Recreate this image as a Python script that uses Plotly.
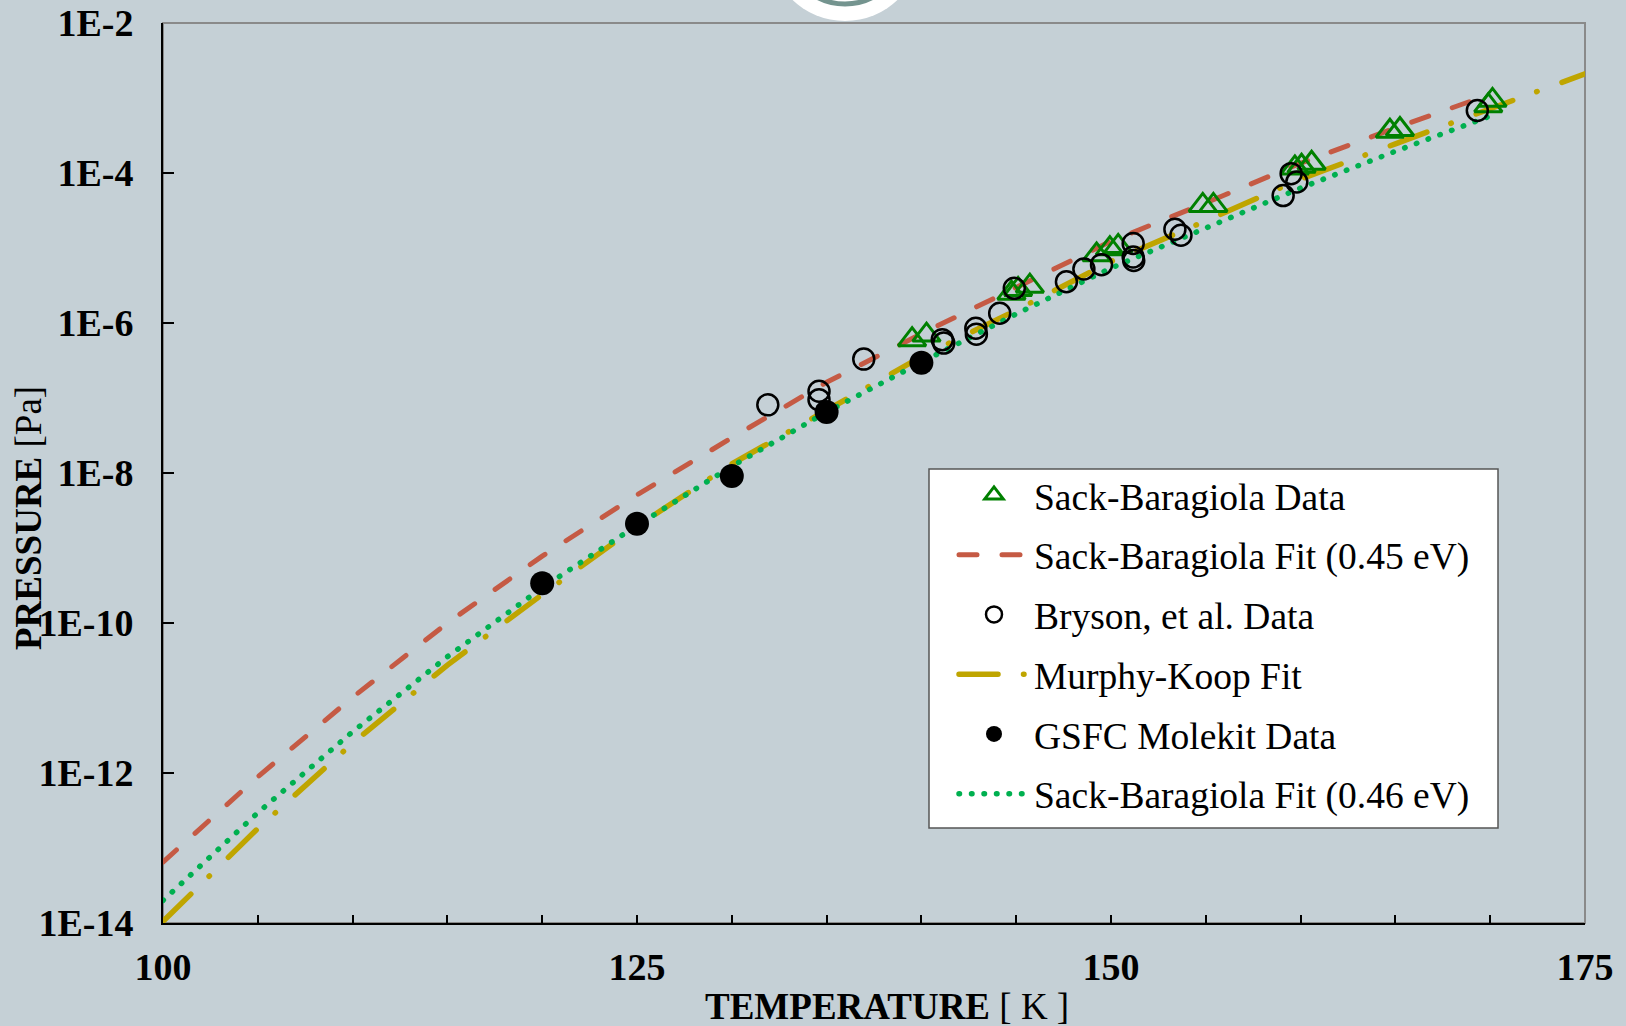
import plotly.graph_objects as go

# ---------------- data ----------------
fit_temps = [100, 105, 110, 115, 120, 125, 130, 135, 140, 145, 150, 155, 160, 165, 170]
sb_fit_045 = [6.5e-14, 8.9e-13, 1.02e-11, 1.0e-10, 7.8e-10, 5.1e-9, 2.95e-8, 1.62e-7,
              7.2e-7, 2.95e-6, 1.23e-5, 4.0e-5, 1.35e-4, 4.0e-4, 1.12e-3]
sb_fit_046 = [2.0e-14, 2.95e-13, 3.55e-12, 3.55e-11, 2.95e-10, 2.0e-9, 1.23e-8, 6.5e-8,
              3.0e-7, 1.32e-6, 5.4e-6, 1.86e-5, 6.3e-5, 1.95e-4, 5.75e-4]
mk_temps = [100, 105, 110, 115, 120, 125, 130, 135, 140, 145, 150, 155, 160, 165, 170, 175]
mk_fit = [1.05e-14, 1.82e-13, 2.5e-12, 2.75e-11, 2.4e-10, 1.95e-9, 1.32e-8, 6.8e-8,
          3.55e-7, 1.48e-6, 6.6e-6, 2.3e-5, 8.3e-5, 2.45e-4, 7.2e-4, 2.1e-3]

sb_data_t = [139.51, 140.27, 144.75, 145.1, 145.72, 149.24, 149.94, 150.38, 154.84, 155.4,
             159.7, 160.05, 160.58, 164.71, 165.24, 169.9, 170.12]
sb_data_p = [6.0e-7, 6.9e-7, 2.5e-6, 2.8e-6, 3.1e-6, 8.1e-6, 9.8e-6, 1.05e-5, 3.7e-5, 3.7e-5,
             1.17e-4, 1.23e-4, 1.35e-4, 3.6e-4, 3.8e-4, 7.9e-4, 9.3e-4]

bryson_t = [131.9, 134.6, 134.6, 136.96, 141.1, 141.18, 142.87, 142.9, 144.13, 144.9, 147.65,
            148.57, 149.5, 151.17, 151.17, 151.2, 153.37, 153.69, 159.08, 159.5, 159.8, 169.32]
bryson_p = [8.1e-8, 1.23e-7, 9.5e-8, 3.3e-7, 6.0e-7, 5.4e-7, 8.5e-7, 7.1e-7, 1.35e-6, 2.9e-6,
            3.55e-6, 5.25e-6, 6.0e-6, 1.15e-5, 7.6e-6, 6.8e-6, 1.78e-5, 1.48e-5, 5.0e-5,
            9.8e-5, 7.6e-5, 6.8e-4]

gsfc_t = [120, 125, 130, 135, 140]
gsfc_p = [3.4e-10, 2.1e-9, 9.1e-9, 6.5e-8, 2.95e-7]

x_tickvals = [100, 125, 150, 175]
y_tickvals = [1e-14, 1e-12, 1e-10, 1e-8, 1e-6, 1e-4, 1e-2]
y_ticktext = ["1E-14", "1E-12", "1E-10", "1E-8", "1E-6", "1E-4", "1E-2"]

# ---------------- styles ----------------
FONT = "Liberation Serif"
BG = "#c5d0d6"
RED = "#c55a44"
GREEN_DOT = "#00b050"
OLIVE = "#bfa500"
TRI_GREEN = "#008000"

fig = go.Figure()

# lines (drawn first)
fig.add_trace(go.Scatter(
    x=mk_temps, y=mk_fit, mode="lines", name="Murphy-Koop Fit",
    line=dict(color=OLIVE, width=5.5, dash="39px,25.5px,0.5px,26.5px"),
    legendgroup="g4", legendrank=4))
fig.add_trace(go.Scatter(
    x=fit_temps, y=sb_fit_045, mode="lines", name="Sack-Baragiola Fit (0.45 eV)",
    line=dict(color=RED, width=5, dash="18px,25px"),
    legendgroup="g2", legendrank=2))
fig.add_trace(go.Scatter(
    x=fit_temps, y=sb_fit_046, mode="lines", name="Sack-Baragiola Fit (0.46 eV)",
    line=dict(color=GREEN_DOT, width=5.5, dash="0.5px,12px"),
    legendgroup="g6", legendrank=6))

# markers
fig.add_trace(go.Scatter(
    x=sb_data_t, y=sb_data_p, mode="markers", name="Sack-Baragiola Data",
    marker=dict(symbol="triangle-up-open", size=24, color=TRI_GREEN, line=dict(width=3, color=TRI_GREEN)),
    legendgroup="g1", legendrank=1))
fig.add_trace(go.Scatter(
    x=bryson_t, y=bryson_p, mode="markers", name="Bryson, et al. Data",
    marker=dict(symbol="circle-open", size=21, color="black", line=dict(width=2.5, color="black")),
    legendgroup="g3", legendrank=3))
fig.add_trace(go.Scatter(
    x=gsfc_t, y=gsfc_p, mode="markers", name="GSFC Molekit Data",
    marker=dict(symbol="circle", size=24, color="black"),
    legendgroup="g5", legendrank=5))

ML, MR, MT, MB = 163, 41, 23, 103
W, H = 1626, 1026
pw, ph = W - ML - MR, H - MT - MB

def px_to_paper_x(px):
    return (px - ML) / pw

def px_to_paper_y(py):
    return (H - MB - py) / ph

fig.update_layout(
    width=W, height=H,
    margin=dict(l=ML, r=MR, t=MT, b=MB, pad=0, autoexpand=False),
    paper_bgcolor=BG, plot_bgcolor=BG,
    font=dict(family=FONT, color="black", size=36),
    showlegend=True,
    legend=dict(
        x=px_to_paper_x(954), y=px_to_paper_y(464), xanchor="left", yanchor="top",
        bgcolor="rgba(0,0,0,0)", borderwidth=0,
        font=dict(family=FONT, size=37.5, color="black"),
        itemwidth=70, tracegroupgap=8, traceorder="grouped",
    ),
    xaxis=dict(
        range=[100, 175], tickvals=x_tickvals, ticktext=[str(v) for v in x_tickvals],
        ticks="inside", ticklen=8, tickwidth=1.5, tickcolor="black",
        minor=dict(dtick=5, ticks="inside", ticklen=8, tickwidth=1.5, tickcolor="black"),
        showline=True, linecolor="black", linewidth=2, mirror=False,
        showgrid=False, zeroline=False, automargin=False,
        tickfont=dict(family=FONT, size=38, color="black", weight="bold"),
        ticklabelstandoff=9,
    ),
    yaxis=dict(
        type="log", range=[-14, -2], tickvals=y_tickvals, ticktext=y_ticktext,
        ticks="inside", ticklen=11, tickwidth=1.5, tickcolor="black",
        showline=True, linecolor="black", linewidth=2, mirror=False,
        showgrid=False, zeroline=False, automargin=False,
        tickfont=dict(family=FONT, size=38, color="black", weight="bold"),
        ticklabelstandoff=20,
    ),
    annotations=[
        dict(text="<b>TEMPERATURE</b> [ K ]", xref="paper", yref="paper",
             x=px_to_paper_x(887), y=px_to_paper_y(1006), xanchor="center", yanchor="middle",
             showarrow=False, font=dict(family=FONT, size=37, color="black")),
        dict(text="<b>PRESSURE</b> [Pa]", xref="paper", yref="paper", textangle=-90,
             x=px_to_paper_x(28), y=px_to_paper_y(518), xanchor="center", yanchor="middle",
             showarrow=False, font=dict(family=FONT, size=37, color="black")),
    ],
    shapes=[
        # gray frame of the plot area
        dict(type="rect", xref="paper", yref="paper", x0=0, y0=0, x1=1, y1=1,
             line=dict(color="#8a8a8a", width=2), layer="below"),
        # legend box
        dict(type="rect", xref="paper", yref="paper",
             x0=px_to_paper_x(929), x1=px_to_paper_x(1498),
             y0=px_to_paper_y(828), y1=px_to_paper_y(469),
             fillcolor="white", line=dict(color="#555555", width=1.5), layer="above"),
        # decorative emblem peeking at the top
        dict(type="circle", xref="paper", yref="paper", xsizemode="pixel", ysizemode="pixel",
             xanchor=px_to_paper_x(845), yanchor=px_to_paper_y(-55),
             x0=-76, x1=76, y0=-76, y1=76, fillcolor="white", line=dict(width=0), layer="above"),
        dict(type="circle", xref="paper", yref="paper", xsizemode="pixel", ysizemode="pixel",
             xanchor=px_to_paper_x(845), yanchor=px_to_paper_y(-55),
             x0=-59, x1=59, y0=-59, y1=59, fillcolor="rgba(0,0,0,0)",
             line=dict(width=5, color="#74948f"), layer="above"),
    ],
)

fig.write_html(
    "out.html",
    config={"displayModeBar": False},
    post_script=(
        "document.body.style.margin='0';document.body.style.overflow='hidden';"
        "document.querySelectorAll('path.js-line').forEach(function(p){p.style.strokeLinecap='round';});"
    ),
)
